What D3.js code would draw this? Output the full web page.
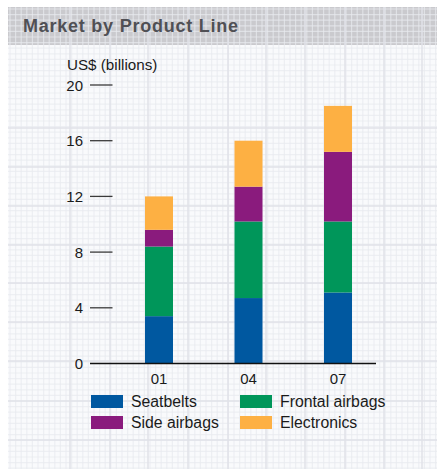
<!DOCTYPE html>
<html>
<head>
<meta charset="utf-8">
<script src="https://cdn.jsdelivr.net/npm/d3@7"></script>
<style>
  html, body { margin: 0; padding: 0; background: #ffffff; }
  svg { display: block; }
  text { font-family: "Liberation Sans", Arial, sans-serif; }
</style>
</head>
<body>
<svg id="chart" width="439" height="469"></svg>
<script>
// ---- data ----
const categories = ["01", "04", "07"];
const seriesNames = ["Seatbelts", "Frontal airbags", "Side airbags", "Electronics"];
const seatbelts = [3.4, 4.7, 5.1];
const frontalAirbags = [5.0, 5.5, 5.1];
const sideAirbags = [1.2, 2.5, 5.0];
const electronics = [2.4, 3.3, 3.3];
const yTicks = [0, 4, 8, 12, 16, 20];
const title = "Market by Product Line";
const unitLabel = "US$ (billions)";

const colors = ["#0058a0", "#00965a", "#8a1b7d", "#fdb043"];

const svg = d3.select("#chart");
const W = 439, H = 469;

// ---- background: graph paper ----
const panelX = 8, panelY = 7, panelW = 429, panelH = H - 7;
svg.append("rect").attr("x", panelX).attr("y", panelY).attr("width", panelW).attr("height", panelH).attr("fill", "#f9fafc");
svg.append("rect").attr("x", panelX).attr("y", panelY).attr("width", panelW).attr("height", 38).attr("fill", "#cacace");

const grid = svg.append("g");
const minor = 5.6;
for (let x = panelX + 2; x < panelX + panelW; x += minor) {
  grid.append("line").attr("x1", x).attr("x2", x).attr("y1", panelY).attr("y2", H)
    .attr("stroke", "#e9ebf0").attr("stroke-width", 1.2).attr("opacity", 0.7);
}
for (let y = panelY + 2; y < H; y += minor) {
  grid.append("line").attr("x1", panelX).attr("x2", panelX + panelW).attr("y1", y).attr("y2", y)
    .attr("stroke", "#e9ebf0").attr("stroke-width", 1.2).attr("opacity", 0.7);
}
const majorX = [70, 110, 148, 188, 228, 266, 305, 345, 384, 422];
majorX.forEach(x => grid.append("line").attr("x1", x).attr("x2", x).attr("y1", panelY).attr("y2", H)
  .attr("stroke", "#e0e2e9").attr("stroke-width", 1.5));
const majorY = [128, 167, 206, 245, 283, 322, 361, 401, 440];
majorY.forEach(y => grid.append("line").attr("x1", panelX).attr("x2", panelX + panelW).attr("y1", y).attr("y2", y)
  .attr("stroke", "#e0e2e9").attr("stroke-width", 1.5));

// title
svg.append("text").attr("x", 23).attr("y", 32).attr("font-size", 18).attr("font-weight", "bold")
  .attr("fill", "#505055").attr("textLength", 215).attr("lengthAdjust", "spacing").text(title);

// ---- scales ----
const x = d3.scalePoint().domain(categories).range([159, 338]);
const y = d3.scaleLinear().domain([0, 20]).range([363.5, 85]);
const barW = 28;

// stacked data
const table = categories.map((c, i) => ({
  cat: c,
  "Seatbelts": seatbelts[i],
  "Frontal airbags": frontalAirbags[i],
  "Side airbags": sideAirbags[i],
  "Electronics": electronics[i]
}));
const stacked = d3.stack().keys(seriesNames)(table);

svg.append("g").selectAll("g").data(stacked).join("g")
  .attr("fill", (d, i) => colors[i])
  .selectAll("rect").data(d => d).join("rect")
  .attr("x", d => x(d.data.cat) - barW / 2)
  .attr("width", barW)
  .attr("y", d => y(d[1]))
  .attr("height", d => y(d[0]) - y(d[1]));

// y axis ticks
const yAxis = svg.append("g");
yTicks.forEach(t => {
  if (t > 0) {
    yAxis.append("line").attr("x1", 90).attr("x2", 112.5).attr("y1", y(t)).attr("y2", y(t))
      .attr("stroke", "#3a3a3a").attr("stroke-width", 1.3);
  }
  yAxis.append("text").attr("x", 83).attr("y", y(t) + 5.5).attr("text-anchor", "end")
    .attr("font-size", 15).attr("fill", "#1a1a1a").text(t);
});
// baseline
svg.append("line").attr("x1", 90).attr("x2", 376).attr("y1", y(0)).attr("y2", y(0))
  .attr("stroke", "#111").attr("stroke-width", 1.3);

// unit label
svg.append("text").attr("x", 67).attr("y", 70).attr("font-size", 15.2).attr("fill", "#1a1a1a").text(unitLabel);

// x labels
svg.append("g").selectAll("text").data(categories).join("text")
  .attr("x", d => x(d)).attr("y", 384).attr("text-anchor", "middle")
  .attr("font-size", 15).attr("fill", "#1a1a1a").text(d => d);

// legend
const legendPos = [[91, 395], [240, 395], [91, 416], [240, 416]];
const legend = svg.append("g");
seriesNames.forEach((name, i) => {
  const [lx, ly] = legendPos[i];
  legend.append("rect").attr("x", lx).attr("y", ly).attr("width", 32).attr("height", 13).attr("fill", colors[i]);
  legend.append("text").attr("x", lx + 40).attr("y", ly + 12).attr("font-size", 15.8).attr("fill", "#1a1a1a").text(name);
});
</script>
</body>
</html>
